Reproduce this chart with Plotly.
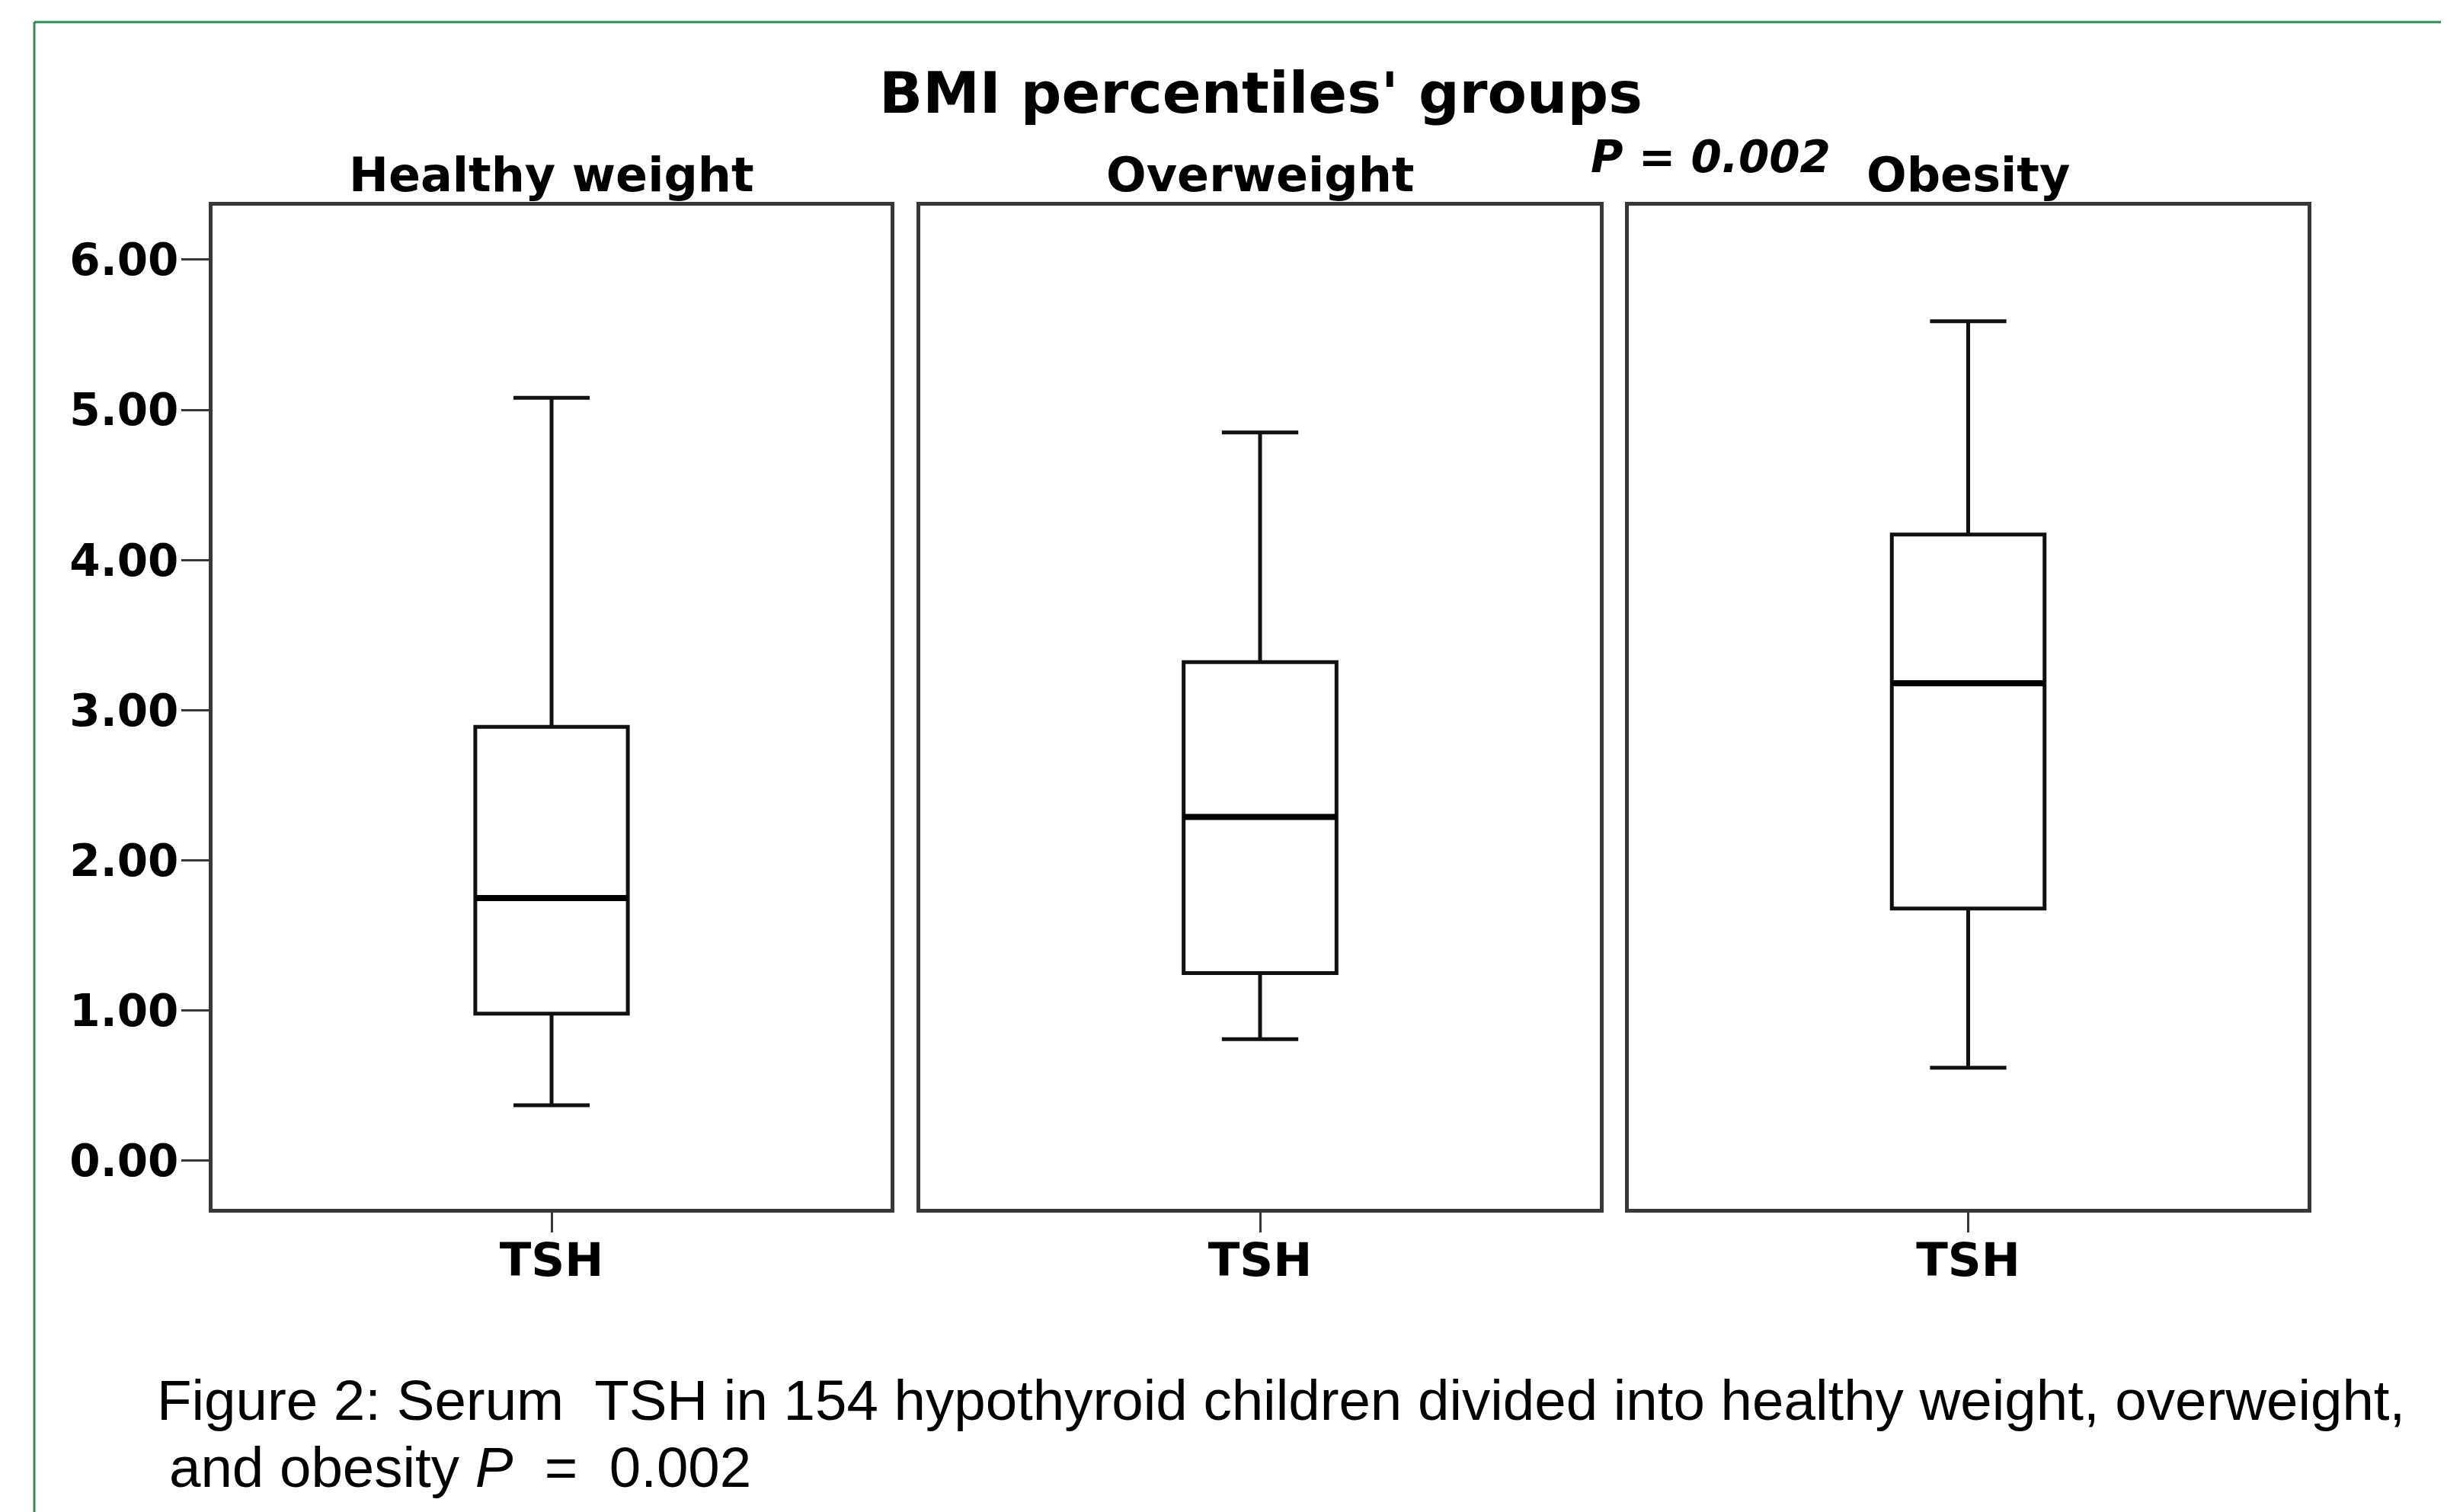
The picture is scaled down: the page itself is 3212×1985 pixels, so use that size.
import plotly.graph_objects as go

# ---- data ----
groups = ["Healthy weight", "Overweight", "Obesity"]
variable = "TSH"
lower_whisker = [0.37, 0.81, 0.62]
q1_values = [0.98, 1.25, 1.68]
median_values = [1.75, 2.29, 3.18]
q3_values = [2.89, 3.32, 4.17]
upper_whisker = [5.08, 4.85, 5.59]
y_ticks = [0, 1, 2, 3, 4, 5, 6]
title_text = "BMI percentiles' groups"
p_text = "P = 0.002"
caption_line1 = "Figure 2: Serum  TSH in 154 hypothyroid children divided into healthy weight, overweight,"
caption_line2 = "and obesity <i>P</i>  =  0.002"

W, H = 3212, 1985
OFF = 8  # default page body margin of the written html
L, R, T, B = 279 - OFF, 3029 - OFF, 270 - OFF, 1587 - OFF
PW, PH = R - L, B - T


def px(x):
    return (x - OFF - L) / PW


def py(y):
    return (B - (y - OFF)) / PH


panel_px = [(279, 1169), (1208, 2100), (2138, 3029)]
domains = [[px(a), px(b)] for a, b in panel_px]
domains[0][0] = 0.0
domains[2][1] = 1.0

BOX_W = 0.45
FRAME = "#383838"
FONT_B = "DejaVu Sans"

fig = go.Figure()
for i, g in enumerate(groups):
    xa = "x" if i == 0 else f"x{i+1}"
    ya = "y" if i == 0 else f"y{i+1}"
    fig.add_trace(go.Box(
        x=[0], q1=[q1_values[i]], median=[median_values[i]], q3=[q3_values[i]],
        lowerfence=[lower_whisker[i]], upperfence=[upper_whisker[i]],
        width=BOX_W, whiskerwidth=0.5, boxpoints=False,
        fillcolor="white", line=dict(color="#111111", width=5),
        xaxis=xa, yaxis=ya, name=g, showlegend=False, hoverinfo="skip"))
    fig.add_trace(go.Scatter(
        x=[-BOX_W / 2, BOX_W / 2], y=[median_values[i], median_values[i]],
        mode="lines", line=dict(color="black", width=8),
        xaxis=xa, yaxis=ya, showlegend=False, hoverinfo="skip"))

yrange = [-0.32, 6.36]
layout = dict(
    width=W, height=H,
    margin=dict(l=L, r=W - R, t=T, b=H - B, pad=0),
    paper_bgcolor="white", plot_bgcolor="white",
    showlegend=False,
    font=dict(family=FONT_B, color="black"),
)
for i in range(3):
    xk = "xaxis" if i == 0 else f"xaxis{i+1}"
    yk = "yaxis" if i == 0 else f"yaxis{i+1}"
    yid = "y" if i == 0 else f"y{i+1}"
    xid = "x" if i == 0 else f"x{i+1}"
    layout[xk] = dict(
        domain=domains[i], range=[-1, 1], anchor=yid,
        tickvals=[0], ticktext=[variable], ticks="outside", ticklen=26,
        tickwidth=3, tickcolor=FRAME, ticklabelstandoff=-16,
        showline=True, mirror=True, linecolor=FRAME, linewidth=5,
        showgrid=False, zeroline=False, fixedrange=True,
        tickfont=dict(family=FONT_B, size=61, color="black", weight="bold"),
    )
    ya = dict(
        domain=[0, 1], range=yrange, anchor=xid,
        showline=True, mirror=True, linecolor=FRAME, linewidth=5,
        showgrid=False, zeroline=False, fixedrange=True,
    )
    if i == 0:
        ya.update(tickvals=y_ticks, ticktext=[f"{v:.2f}" for v in y_ticks],
                  ticks="outside", ticklen=36, tickwidth=3, tickcolor=FRAME,
                  ticklabelstandoff=-8,
                  tickfont=dict(family=FONT_B, size=58, color="black", weight="bold"))
    else:
        ya.update(showticklabels=False, ticks="")
    layout[yk] = ya

fig.update_layout(**layout)

ann = []
ann.append(dict(text=f"<b>{title_text}</b>", x=px(1655), y=py(122), xref="paper", yref="paper",
                xanchor="center", yanchor="middle", showarrow=False,
                font=dict(family=FONT_B, size=75, color="black")))
for i, g in enumerate(groups):
    cx = (panel_px[i][0] + panel_px[i][1]) / 2
    ann.append(dict(text=f"<b>{g}</b>", x=px(cx), y=py(229), xref="paper", yref="paper",
                    xanchor="center", yanchor="middle", showarrow=False,
                    font=dict(family=FONT_B, size=62, color="black")))
ann.append(dict(text=f"<b><i>{p_text}</i></b>", x=px(2086), y=py(206), xref="paper", yref="paper",
                xanchor="left", yanchor="middle", showarrow=False,
                font=dict(family=FONT_B, size=58, color="black")))
ann.append(dict(text=caption_line1, x=px(204), y=py(1838), xref="paper", yref="paper",
                xanchor="left", yanchor="middle", showarrow=False,
                font=dict(family="Liberation Sans", size=74.5, color="black")))
ann.append(dict(text=caption_line2, x=px(220), y=py(1926), xref="paper", yref="paper",
                xanchor="left", yanchor="middle", showarrow=False,
                font=dict(family="Liberation Sans", size=74.5, color="black")))
fig.update_layout(annotations=ann)

GREEN = "#2e8b57"
fig.add_shape(type="line", xref="paper", yref="paper", x0=px(45), x1=px(W + 20), y0=py(29), y1=py(29),
              line=dict(color=GREEN, width=3))
fig.add_shape(type="line", xref="paper", yref="paper", x0=px(45), x1=px(45), y0=py(29), y1=py(H + 20),
              line=dict(color=GREEN, width=3))

fig.write_html("out.html")
